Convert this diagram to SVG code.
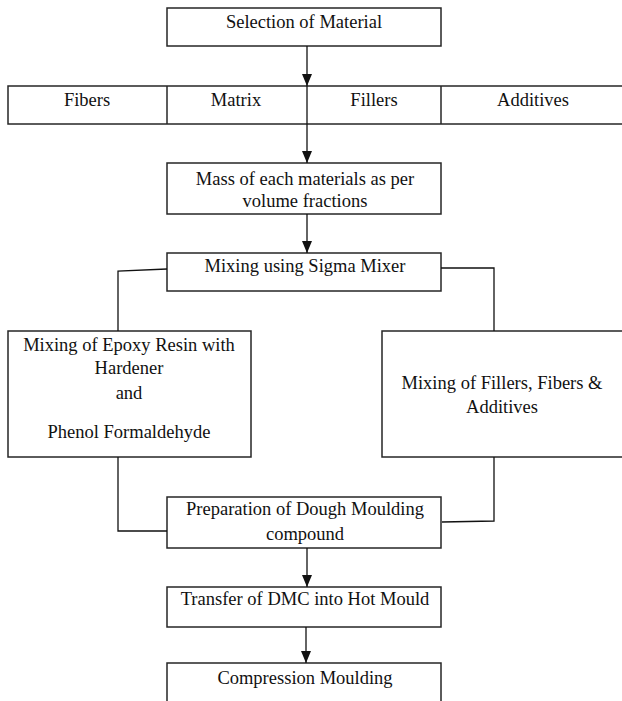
<svg xmlns="http://www.w3.org/2000/svg" width="622" height="701" viewBox="0 0 622 701">
<style>
.box{fill:#fff;stroke:#262626;stroke-width:1.5}
.t{font-family:"Liberation Serif","Times New Roman",serif;font-size:18.5px;fill:#111;text-anchor:middle}
.c{fill:none;stroke:#111;stroke-width:1.3}
</style>
<defs>
<marker id="ah" markerWidth="12" markerHeight="10" refX="12" refY="5" orient="auto" markerUnits="userSpaceOnUse" viewBox="0 0 12 10">
<path d="M0,0 L12,5 L0,10 Z" fill="#111"/>
</marker>
</defs>
<rect width="622" height="701" fill="#fff"/>
<g id="selection">
<rect class="box" x="167" y="8" width="274" height="38"/>
<text class="t" x="304" y="28">Selection of Material</text>
</g>
<g id="materials">
<rect class="box" x="8" y="86" width="616" height="38"/>
<line class="box" x1="167" y1="86" x2="167" y2="124"/>
<line class="box" x1="441" y1="86" x2="441" y2="124"/>
<text class="t" x="87" y="106">Fibers</text>
<text class="t" x="236" y="106">Matrix</text>
<text class="t" x="374" y="106">Fillers</text>
<text class="t" x="533" y="106">Additives</text>
</g>
<g id="mass">
<rect class="box" x="167" y="163" width="274" height="51"/>
<text class="t" x="305" y="185">Mass of each materials as per</text>
<text class="t" x="305" y="207">volume fractions</text>
</g>
<g id="sigma">
<rect class="box" x="167" y="253" width="274" height="38"/>
<text class="t" x="305" y="272">Mixing using Sigma Mixer</text>
</g>
<g id="epoxy">
<rect class="box" x="8" y="331" width="243" height="126"/>
<text class="t" x="129" y="351">Mixing of Epoxy Resin with</text>
<text class="t" x="129" y="374">Hardener</text>
<text class="t" x="129" y="399">and</text>
<text class="t" x="129" y="438">Phenol Formaldehyde</text>
</g>
<g id="fillers">
<rect class="box" x="382" y="331" width="242" height="126"/>
<text class="t" x="502" y="389">Mixing of Fillers, Fibers &amp;</text>
<text class="t" x="502" y="413">Additives</text>
</g>
<g id="dough">
<rect class="box" x="167" y="497" width="274" height="51"/>
<text class="t" x="305" y="515">Preparation of Dough Moulding</text>
<text class="t" x="305" y="540">compound</text>
</g>
<g id="transfer">
<rect class="box" x="167" y="587" width="274" height="40"/>
<text class="t" x="305" y="605">Transfer of DMC into Hot Mould</text>
</g>
<g id="compression">
<rect class="box" x="167" y="663" width="274" height="45"/>
<text class="t" x="305" y="684">Compression Moulding</text>
</g>
<g id="connectors">
<line class="c" x1="307" y1="46" x2="307" y2="86" marker-end="url(#ah)"/>
<line class="c" x1="307" y1="86" x2="307" y2="163" marker-end="url(#ah)"/>
<line class="c" x1="307" y1="214" x2="307" y2="253" marker-end="url(#ah)"/>
<polyline class="c" points="167,269 118,271 118,331"/>
<polyline class="c" points="441,268 494,268 494,331"/>
<polyline class="c" points="118,457 118,531 167,531"/>
<polyline class="c" points="494,457 494,521 442,522"/>
<line class="c" x1="307" y1="548" x2="307" y2="587" marker-end="url(#ah)"/>
<line class="c" x1="306" y1="627" x2="306" y2="663" marker-end="url(#ah)"/>
</g>
</svg>
